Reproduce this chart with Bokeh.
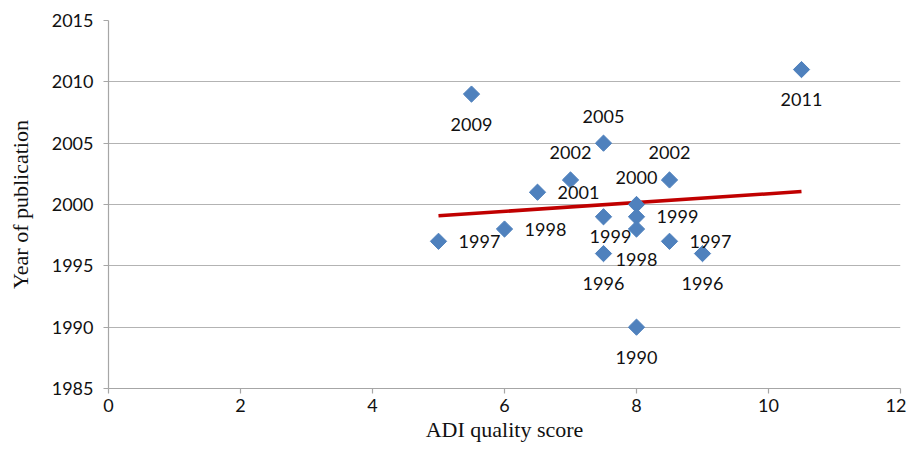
import numpy as np
from bokeh.plotting import figure
from bokeh.models import ColumnDataSource, FixedTicker, Range1d
from bokeh.core.properties import value
from bokeh.embed import file_html
from bokeh.resources import INLINE

# ---- data ----
adi_score = [5, 5.5, 6, 6.5, 7, 7.5, 7.5, 7.5, 8, 8, 8, 8, 8.5, 8.5, 9, 10.5]
pub_year = [1997, 2009, 1998, 2001, 2002, 2005, 1999, 1996, 2000, 1999, 1998, 1990, 2002, 1997, 1996, 2011]
x_ticks = [0, 2, 4, 6, 8, 10, 12]
y_ticks = [1985, 1990, 1995, 2000, 2005, 2010, 2015]
x_title = "ADI quality score"
y_title = "Year of publication"

# ---- label placement (style) ----
label_side = ["right", "below", "right", "right", "above", "above", "below_near", "below",
              "above", "right", "below", "below", "above", "right", "below", "below"]
side_offsets = {"right": (41, 0), "below": (0, 30), "above": (0, -27), "below_near": (7, 20)}

dx = [side_offsets[s][0] for s in label_side]
dy = [side_offsets[s][1] for s in label_side]
src = ColumnDataSource(dict(x=adi_score, y=pub_year, lab=[str(v) for v in pub_year], dx=dx, dy=dy))

# linear trend line
slope, intercept = np.polyfit(adi_score, pub_year, 1)
tx = [min(adi_score), max(adi_score)]
ty = [slope * v + intercept for v in tx]

p = figure(width=906, height=446, output_backend="svg", toolbar_location=None,
           x_range=Range1d(0, 12), y_range=Range1d(1985, 2015),
           min_border_left=108, min_border_right=6, min_border_top=20, min_border_bottom=58)
p.outline_line_color = None
p.xgrid.grid_line_color = None
p.ygrid.grid_line_color = "#B3B3B3"
p.ygrid.grid_line_width = 1.2
p.background_fill_color = "white"
p.border_fill_color = "white"

p.xaxis.ticker = FixedTicker(ticks=x_ticks)
p.yaxis.ticker = FixedTicker(ticks=y_ticks)
for ax in (p.xaxis, p.yaxis):
    ax.axis_line_color = "#A6A6A6"
    ax.axis_line_width = 1.2
    ax.major_tick_line_color = "#A6A6A6"
    ax.major_tick_line_width = 1.2
    ax.major_tick_in = 0
    ax.major_tick_out = 5
    ax.minor_tick_line_color = None
    ax.major_label_text_font = "Lato"
    ax.major_label_text_font_size = "18px"
    ax.major_label_text_color = "#111111"
    ax.axis_label_text_font = "Liberation Serif"
    ax.axis_label_text_font_size = "22px"
    ax.axis_label_text_font_style = "normal"
    ax.axis_label_text_color = "#111111"
p.yaxis.major_label_standoff = 10
p.yaxis.axis_label_standoff = 16
p.xaxis.major_label_standoff = 5
p.xaxis.axis_label_standoff = 2
p.xaxis.axis_label = x_title
p.yaxis.axis_label = y_title

p.line(tx, ty, line_color="#C00000", line_width=3.5)
p.scatter("x", "y", source=src, marker="square", size=11.5, angle=np.pi / 4,
          fill_color="#4F81BD", line_color="#4F81BD")
p.text("x", "y", text="lab", source=src, x_offset="dx", y_offset="dy",
       text_align="center", text_baseline="middle", text_font=value("Lato"),
       text_font_size="18px", text_color="#111111")

open("out.html", "w").write(file_html(p, INLINE))
